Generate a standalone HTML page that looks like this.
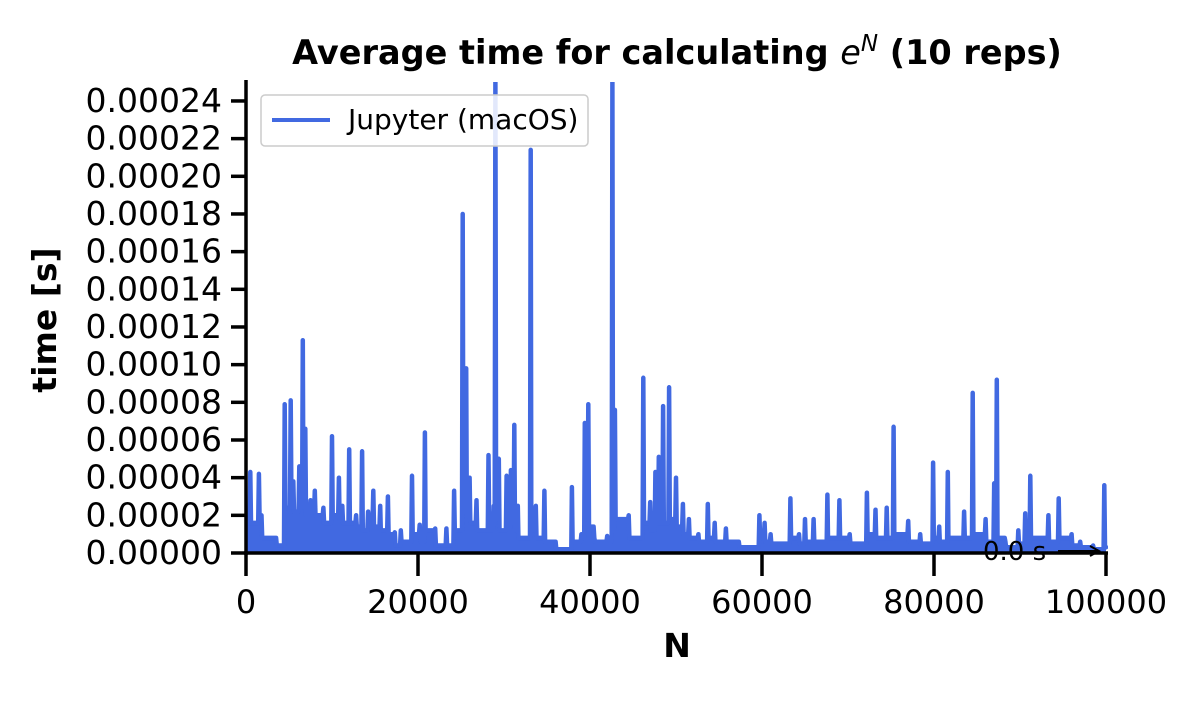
<!DOCTYPE html>
<html><head><meta charset="utf-8"><style>
body{margin:0;background:#fff;}
svg text{font-family:"DejaVu Sans","Liberation Sans",sans-serif;}
</style></head><body>
<svg id="chart" width="1200" height="700" viewBox="0 0 1200 700">
<defs><clipPath id="plotclip"><rect x="246" y="82" width="862" height="473"/></clipPath></defs>
<text x="677" y="64" text-anchor="middle" font-size="33.5" font-weight="bold">Average time for calculating <tspan font-style="italic" font-weight="normal">e</tspan><tspan font-style="italic" font-weight="normal" font-size="23" dy="-13">N</tspan><tspan dy="13"> (10 reps)</tspan></text>
<g id="plot" clip-path="url(#plotclip)"></g>
<g id="axes"></g>
<text x="677" y="657" text-anchor="middle" font-size="33" font-weight="bold">N</text>
<text transform="translate(56,320) rotate(-90)" text-anchor="middle" font-size="33" font-weight="bold">time [s]</text>
<text x="983" y="560" font-size="26">0.0 s</text>
<g><line x1="1058" y1="551" x2="1098" y2="551" stroke="#000" stroke-width="2"/><path d="M1090,546 L1099,551 L1090,556" fill="none" stroke="#000" stroke-width="2"/></g>
<g>
<rect x="261" y="95" width="327" height="51" rx="4" fill="#fff" fill-opacity="0.85" stroke="#ccc" stroke-width="1.5"/>
<line x1="272" y1="120" x2="330" y2="120" stroke="#4169e1" stroke-width="4"/>
<text x="348" y="129" font-size="28">Jupyter (macOS)</text>
</g>
</svg>
<script>
const peakN=[500,1500,1800,3500,4500,5200,5500,6200,6600,6900,7500,8000,9000,10000,10800,11200,12000,12800,13500,14200,14800,15600,16500,17300,18000,19300,20200,20800,22000,23300,24200,25200,25600,26000,26800,28200,28800,29000,29400,30300,30800,31200,31600,33100,33700,34700,36000,37900,39000,39400,39800,40500,42000,42600,42900,44500,46200,47000,47600,48000,48500,49200,50000,50800,51500,52600,53700,54500,55800,57300,59700,60300,61000,63300,64300,65000,66000,67600,69000,70200,72200,73200,74500,75300,77000,78400,79900,80600,81600,83500,84500,86000,87000,87300,88300,89800,90600,91200,93300,94500,96000,97000,98500,99800];
const peakT=[4.3,4.2,2.0,0.8,7.9,8.1,3.8,4.6,11.3,6.6,2.8,3.3,2.4,6.2,4.0,2.5,5.5,2.0,5.4,2.2,3.3,2.5,3.0,1.1,1.2,4.1,1.5,6.4,1.3,1.3,3.3,18.0,9.8,4.0,2.8,5.2,2.5,25.0,5.0,4.1,4.4,6.8,2.5,21.4,2.5,3.3,0.6,3.5,1.0,6.9,7.9,0.8,0.9,25.0,7.6,2.0,9.3,2.7,4.3,5.1,7.8,8.8,4.0,2.6,1.8,1.0,2.6,1.6,1.3,0.6,2.0,1.6,1.0,2.9,1.0,1.8,1.8,3.1,2.8,1.0,3.2,2.3,2.4,6.7,1.7,1.0,4.8,1.4,4.3,2.2,8.5,1.8,3.7,9.2,0.6,1.2,2.1,4.1,2.0,2.9,1.0,0.6,0.4,3.6];
const lowT=[1.6,1.8,0.8,0.4,2.4,3.0,2.2,2.4,2.6,2.0,2.2,2.0,1.6,2.0,1.8,1.6,1.6,1.4,1.2,1.8,1.4,1.2,1.0,0.4,0.6,1.0,0.6,1.2,0.4,0.4,1.2,2.2,2.0,1.6,1.2,1.2,1.6,1.8,1.2,1.4,1.6,1.2,0.8,1.2,0.8,0.6,0.2,0.6,0.8,2.0,1.4,0.6,0.6,1.2,1.8,0.8,1.6,1.2,1.6,1.6,1.6,1.8,1.4,1.0,0.8,0.6,0.8,0.6,0.6,0.3,0.8,0.6,0.5,0.8,0.5,0.6,0.6,0.8,0.8,0.5,1.0,0.8,0.8,1.0,0.6,0.5,0.8,0.6,0.8,0.8,1.0,0.6,0.8,0.8,0.3,0.5,0.6,0.8,0.6,0.8,0.4,0.3,0.2,0.4];
const xTicks=[0,20000,40000,60000,80000,100000];
const yTicks=[0,2,4,6,8,10,12,14,16,18,20,22,24];
const yTickLabels=["0.00000","0.00002","0.00004","0.00006","0.00008","0.00010","0.00012","0.00014","0.00016","0.00018","0.00020","0.00022","0.00024"];
const NS="http://www.w3.org/2000/svg";
const X=n=>246+n/100000*860;
const Y=t=>553-t/2*37.67;
const plot=document.getElementById('plot'),axes=document.getElementById('axes');
let pts=[[X(0),Y(lowT[0])]];
for(let i=0;i<peakN.length;i++){
  const prevLow=i?lowT[i-1]:lowT[0];
  pts.push([X(peakN[i]-80),Y(prevLow)]);
  pts.push([X(peakN[i]),Y(peakT[i])]);
  pts.push([X(peakN[i]+80),Y(lowT[i])]);
}
pts.push([X(100000),Y(0.3)]);
const d=pts.map((p,i)=>(i?'L':'M')+p[0].toFixed(1)+','+p[1].toFixed(1)).join('');
const area=document.createElementNS(NS,'path');
area.setAttribute('d',d+'L'+X(100000)+','+Y(0)+'L'+X(0)+','+Y(0)+'Z');
area.setAttribute('fill','#4169e1');


plot.appendChild(area);
const line=document.createElementNS(NS,'path');
line.setAttribute('d',d);line.setAttribute('fill','none');line.setAttribute('stroke','#4169e1');line.setAttribute('stroke-width','4.5');line.setAttribute('stroke-linejoin','round');line.setAttribute('stroke-linecap','round');


plot.appendChild(line);
function mk(tag,attrs){const e=document.createElementNS(NS,tag);for(const k in attrs)e.setAttribute(k,attrs[k]);axes.appendChild(e);return e;}
const ls=mk('line',{x1:246,y1:80,x2:246,y2:555,stroke:'#000','stroke-width':3.5});


const bs=mk('line',{x1:244,y1:553,x2:1108,y2:553,stroke:'#000','stroke-width':3.5});


xTicks.forEach(v=>{const x=X(v);
const t=mk('line',{x1:x,y1:553,x2:x,y2:576,stroke:'#000','stroke-width':3.5});


const l=mk('text',{x:x,y:613,'text-anchor':'middle','font-size':32});l.textContent=String(v);

});
yTicks.forEach((v,i)=>{const y=Y(v);
const t=mk('line',{x1:231,y1:y,x2:246,y2:y,stroke:'#000','stroke-width':3.5});


const l=mk('text',{x:222,y:y+11,'text-anchor':'end','font-size':33});l.textContent=yTickLabels[i];

});
</script>
</body></html>
